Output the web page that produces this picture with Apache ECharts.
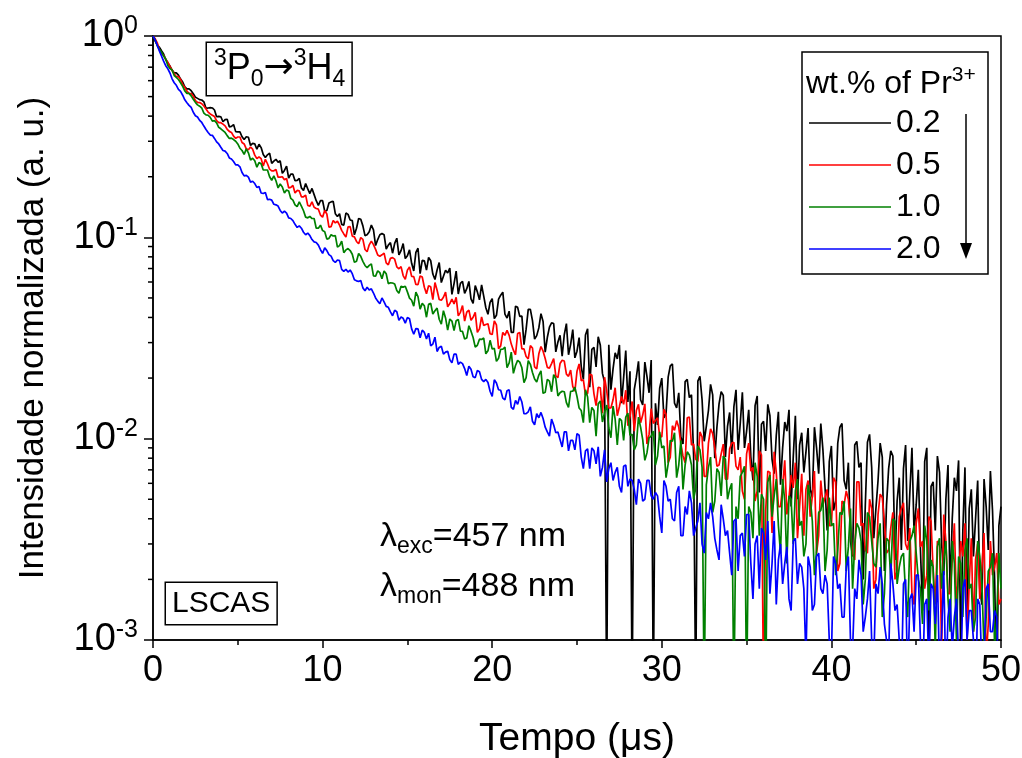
<!DOCTYPE html>
<html>
<head>
<meta charset="utf-8">
<script src="https://cdn.jsdelivr.net/npm/echarts@6.0.0/dist/echarts.min.js"></script>
<style>
html,body{margin:0;padding:0;background:#fff;}
#chart{width:1022px;height:758px;}
</style>
</head>
<body>
<div id="chart"></div>
<script>
// time step of the decay traces (µs); "Mid" arrays sit half a step after the main ones
const tStep = 0.25;
const seriesNames = ['0.2', '0.5', '1.0', '2.0'];
const seriesColors = ['#000000', '#ff0000', '#008000', '#0000ff'];
const xTicks = [0, 10, 20, 30, 40, 50];

// normalized intensity, 0.2 wt.% Pr3+  (t = 0, 0.25, 0.5 ...)
const black = [1.000,0.903,0.845,0.764,0.709,0.656,0.639,0.591,0.546,0.535,0.497,0.483,0.471,0.439,0.439,0.397,0.397,0.384,0.354,0.363,0.334,0.316,0.316,0.286,0.291,0.290,0.258,0.257,0.233,0.244,0.240,0.215,0.197,0.206,0.192,0.176,0.185,0.165,0.163,0.144,
0.152,0.136,0.150,0.131,0.131,0.115,0.130,0.121,0.111,0.123,0.102,0.1065,0.109,0.0975,0.1045,0.0874,0.0941,0.0933,0.0819,0.0931,0.0810,0.0743,0.0842,0.0660,0.0764,0.0794,0.0657,0.0688,0.0596,0.0687,0.0703,0.0589,0.0523,0.0605,0.0556,0.0495,0.0576,0.0489,0.0510,0.0415,
0.0496,0.0410,0.0516,0.0416,0.0430,0.0337,0.0449,0.0406,0.0350,0.0439,0.0312,0.0355,0.0382,0.0318,0.0376,0.0270,0.0326,0.0329,0.0261,0.0348,0.0272,0.0228,0.0327,0.0180,0.0284,0.0321,0.0211,0.0005,0.0175,0.0267,0.0292,0.0201,0.0152,0.0005,0.0202,0.0156,0.0240,0.0169,0.0005,0.0117,
0.0200,0.0133,0.0230,0.0150,0.0169,0.0094,0.0197,0.0165,0.0005,0.0204,0.0097,0.0138,0.0165,0.0114,0.0171,0.0081,0.0135,0.0144,0.0088,0.0170,0.0109,0.0081,0.0146,0.0054,0.0122,0.0148,0.0079,0.0104,0.0059,0.0121,0.0139,0.0081,0.0050,0.0107,0.0086,0.0056,0.0114,0.0067,0.0088,0.0035,
0.0092,0.0049,0.0114,0.0062,0.0076,0.0026,0.0097,0.0076,0.0047,0.0105,0.0032,0.0062,0.0081,0.0047,0.0087,0.0025,0.0064,0.0071,0.0031,0.0090,0.0047,0.0028,0.0077,0.0009,0.0061,0.0082,0.0030,0.0050,0.0017,0.0064,0.0078,0.0035,0.0012,0.0056,0.0040,0.0018,0.0063,0.0028,0.0044,0.0005,0.0046];
// t = 0.125, 0.375 ...
const blackMid = [0.945,0.879,0.814,0.734,0.677,0.656,0.611,0.559,0.546,0.517,0.490,0.481,0.437,0.441,0.429,0.399,0.375,0.386,0.356,0.335,
0.334,0.306,0.314,0.293,0.274,0.279,0.249,0.262,0.239,0.236,0.208,0.226,0.206,0.191,0.196,0.171,0.174,0.175,0.152,0.152,
0.135,0.148,0.151,0.127,0.116,0.132,0.122,0.103,0.124,0.114,0.103,0.115,0.091,0.103,0.103,0.0915,0.0834,0.0990,0.0859,0.0784,
0.0866,0.0681,0.0883,0.0769,0.0687,0.0765,0.0617,0.0750,0.0641,0.0665,0.0521,0.0679,0.0591,0.0527,0.0604,0.0470,0.0536,0.0580,0.0447,0.0475,
0.0395,0.0493,0.0534,0.0397,0.0337,0.0455,0.0405,0.0293,0.0439,0.0386,0.0325,0.0418,0.0269,0.0358,0.0373,0.0302,0.0257,0.0373,0.0294,0.0252,
0.0318,0.0197,0.0351,0.0278,0.0227,0.0291,0.0191,0.0293,0.0222,0.0249,0.0150,0.0274,0.0216,0.0175,0.0242,0.0147,0.0204,0.0246,0.0150,0.0178,
0.0127,0.0202,0.0235,0.0142,0.0102,0.0192,0.0160,0.0083,0.0193,0.0156,0.0115,0.0186,0.0080,0.0149,0.0164,0.0115,0.0084,0.0175,0.0119,0.0090,
0.0139,0.0062,0.0163,0.0118,0.0087,0.0130,0.0067,0.0136,0.0090,0.0109,0.0046,0.0130,0.0093,0.0068,0.0113,0.0051,0.0090,0.0119,0.0057,0.0077,
0.0044,0.0095,0.0119,0.0056,0.0031,0.0093,0.0072,0.0020,0.0096,0.0072,0.0045,0.0095,0.0022,0.0071,0.0082,0.0049,0.0028,0.0093,0.0054,0.0034,
0.0070,0.0014,0.0090,0.0058,0.0035,0.0068,0.0021,0.0074,0.0040,0.0055,0.0008,0.0072,0.0045,0.0026,0.0062,0.0015,0.0046,0.0069,0.0020,0.0037];

// 0.5 wt.%
const red = [1.000,0.925,0.819,0.766,0.706,0.649,0.629,0.574,0.532,0.518,0.478,0.467,0.449,0.419,0.404,0.380,0.371,0.358,0.336,0.318,
0.315,0.296,0.275,0.281,0.256,0.251,0.226,0.232,0.214,0.217,0.199,0.193,0.176,0.181,0.171,0.159,0.162,0.143,0.141,0.138,
0.126,0.1306,0.113,0.118,0.115,0.104,0.1127,0.1014,0.0954,0.0997,0.0870,0.0918,0.0920,0.0817,0.0819,0.0747,0.0786,0.0779,0.0698,0.0646,
0.0687,0.0640,0.0583,0.0643,0.0565,0.0575,0.0491,0.0546,0.0487,0.0535,0.0469,0.0467,0.0407,0.0458,0.0425,0.0387,0.0424,0.0351,0.0365,0.0372,
0.0329,0.0367,0.0289,0.0326,0.0326,0.0275,0.0333,0.0279,0.0256,0.0290,0.0227,0.0264,0.0272,0.0226,0.0236,0.0205,0.0236,0.0243,0.0204,0.0182,
0.0216,0.0194,0.0165,0.0209,0.0167,0.0180,0.0134,0.0173,0.0142,0.0179,0.0144,0.0148,0.0116,0.0153,0.0138,0.0120,0.0149,0.0105,0.0119,0.0127,
0.0102,0.0132,0.0081,0.0110,0.0114,0.0082,0.0127,0.0093,0.0079,0.0108,0.0065,0.0095,0.0106,0.0073,0.0084,0.0063,0.0089,0.0096,0.0070,0.0055,
0.0084,0.0069,0.0049,0.0087,0.0005,0.0069,0.0034,0.0068,0.0046,0.0078,0.0051,0.0057,0.0032,0.0067,0.0056,0.0041,0.0069,0.0033,0.0047,0.0056,
0.0037,0.0061,0.0024,0.0047,0.0050,0.0027,0.0061,0.0037,0.0028,0.0050,0.0018,0.0042,0.0051,0.0027,0.0036,0.0020,0.0041,0.0048,0.0028,0.0017,
0.0038,0.0029,0.0018,0.0041,0.0022,0.0031,0.0009,0.0031,0.0017,0.0038,0.0021,0.0026,0.0010,0.0032,0.0025,0.0016,0.0034,0.0012,0.0021,0.0027,0.0016];
const redMid = [0.971,0.856,0.802,0.740,0.676,0.628,0.608,0.556,0.519,0.503,0.468,0.461,0.434,0.410,0.398,0.371,0.365,0.344,0.332,0.310,
0.315,0.291,0.272,0.274,0.246,0.246,0.244,0.218,0.214,0.199,0.200,0.196,0.177,0.166,0.170,0.159,0.144,0.150,0.139,0.129,
0.1359,0.1124,0.1212,0.1202,0.1083,0.1003,0.1130,0.1005,0.0929,0.0977,0.0848,0.0957,0.0871,0.0805,0.0835,0.0730,0.0793,0.0714,0.0715,0.0618,
0.0713,0.0638,0.0582,0.0635,0.0525,0.0568,0.0596,0.0491,0.0504,0.0452,0.0494,0.0504,0.0424,0.0384,0.0435,0.0401,0.0337,0.0402,0.0369,0.0332,
0.0385,0.0280,0.0337,0.0345,0.0295,0.0261,0.0337,0.0279,0.0249,0.0282,0.0222,0.0287,0.0250,0.0224,0.0250,0.0201,0.0245,0.0209,0.0219,0.0172,
0.0235,0.0196,0.0168,0.0207,0.0146,0.0179,0.0202,0.0142,0.0156,0.0130,0.0162,0.0174,0.0129,0.0109,0.0148,0.0131,0.0094,0.0141,0.0123,0.0103,
0.0140,0.0076,0.0116,0.0123,0.0094,0.0076,0.0128,0.0094,0.0077,0.0102,0.0065,0.0112,0.0090,0.0074,0.0094,0.0063,0.0095,0.0073,0.0081,0.0050,
0.0095,0.0072,0.0055,0.0083,0.0044,0.0068,0.0086,0.0046,0.0058,0.0042,0.0066,0.0076,0.0046,0.0033,0.0062,0.0052,0.0027,0.0062,0.0051,0.0037,
0.0064,0.0022,0.0049,0.0055,0.0036,0.0025,0.0061,0.0038,0.0027,0.0045,0.0020,0.0053,0.0039,0.0028,0.0043,0.0022,0.0045,0.0030,0.0036,0.0015,
0.0045,0.0031,0.0021,0.0039,0.0015,0.0030,0.0042,0.0017,0.0025,0.0015,0.0031,0.0038,0.0019,0.0011,0.0030,0.0023,0.0008,0.0031,0.0023,0.0015];

// 1.0 wt.%
const green = [1.000,0.894,0.830,0.768,0.689,0.636,0.608,0.562,0.519,0.504,0.468,0.448,0.414,0.404,0.378,0.370,0.346,0.332,0.310,0.306,
0.291,0.270,0.275,0.242,0.240,0.235,0.216,0.216,0.192,0.191,0.184,0.166,0.170,0.153,0.142,0.143,0.126,0.127,0.124,0.111,
0.108,0.098,0.103,0.102,0.0910,0.0839,0.0880,0.0824,0.0761,0.0805,0.0725,0.0726,0.0644,0.0682,0.0623,0.0659,0.0595,0.0586,0.0527,0.0566,
0.0536,0.0487,0.0534,0.0440,0.0457,0.0465,0.0416,0.0445,0.0371,0.0398,0.0393,0.0344,0.0391,0.0341,0.0316,0.0342,0.0285,0.0312,0.0316,0.0273,
0.0279,0.0242,0.0278,0.0285,0.0238,0.0211,0.0245,0.0225,0.0201,0.0234,0.0198,0.0207,0.0168,0.0197,0.0171,0.0199,0.0169,0.0171,0.0143,0.0172,
0.0162,0.0138,0.0175,0.0120,0.0138,0.0149,0.0121,0.0147,0.0101,0.0125,0.0126,0.0098,0.0134,0.0105,0.0093,0.0114,0.0078,0.0101,0.0109,0.0082,
0.0090,0.0064,0.0098,0.0107,0.0074,0.0056,0.0086,0.0074,0.0057,0.0088,0.0005,0.0072,0.0043,0.0071,0.0052,0.0079,0.0056,0.0005,0.0040,0.0068,
0.0005,0.0043,0.0076,0.0033,0.0050,0.0061,0.0041,0.0063,0.0027,0.0049,0.0052,0.0030,0.0063,0.0039,0.0030,0.0051,0.0021,0.0043,0.0051,0.0028,
0.0037,0.0021,0.0043,0.0049,0.0029,0.0018,0.0038,0.0031,0.0020,0.0041,0.0024,0.0032,0.0013,0.0032,0.0020,0.0039,0.0023,0.0027,0.0013,0.0033,
0.0027,0.0018,0.0037,0.0014,0.0023,0.0029,0.0018,0.0031,0.0011,0.0024,0.0026,0.0013,0.0032,0.0019,0.0013,0.0026,0.0009,0.0022,0.0027,0.0013,0.0018];
const greenMid = [0.957,0.859,0.796,0.714,0.678,0.623,0.586,0.534,0.519,0.485,0.455,0.439,0.406,0.394,0.380,0.352,0.339,0.320,0.311,0.300,
0.277,0.258,0.263,0.247,0.223,0.232,0.216,0.200,0.202,0.176,0.178,0.172,0.156,0.145,0.150,0.1355,0.125,0.124,0.111,0.115,
0.1067,0.0988,0.1015,0.0895,0.0957,0.0866,0.0860,0.0751,0.0831,0.0760,0.0706,0.0738,0.0642,0.0668,0.0681,0.0589,0.0593,0.0545,0.0571,0.0572,
0.0499,0.0455,0.0508,0.0470,0.0401,0.0470,0.0432,0.0392,0.0432,0.0346,0.0384,0.0385,0.0342,0.0313,0.0364,0.0318,0.0291,0.0311,0.0264,0.0308,
0.0281,0.0251,0.0278,0.0225,0.0269,0.0231,0.0240,0.0190,0.0244,0.0213,0.0191,0.0217,0.0170,0.0193,0.0208,0.0163,0.0172,0.0151,0.0172,0.0180,
0.0142,0.0120,0.0161,0.0143,0.0103,0.0154,0.0135,0.0113,0.0145,0.0093,0.0123,0.0128,0.0104,0.0088,0.0128,0.0099,0.0085,0.0103,0.0074,0.0108,
0.0092,0.0075,0.0097,0.0064,0.0098,0.0074,0.0083,0.0050,0.0092,0.0072,0.0059,0.0081,0.0049,0.0068,0.0082,0.0050,0.0060,0.0046,0.0065,0.0073,
0.0046,0.0032,0.0065,0.0053,0.0005,0.0066,0.0052,0.0037,0.0063,0.0024,0.0050,0.0055,0.0037,0.0026,0.0059,0.0039,0.0028,0.0044,0.0022,0.0051,
0.0038,0.0028,0.0042,0.0022,0.0045,0.0030,0.0036,0.0015,0.0043,0.0031,0.0023,0.0038,0.0017,0.0031,0.0040,0.0019,0.0026,0.0017,0.0031,0.0037,
0.0020,0.0012,0.0031,0.0025,0.0009,0.0032,0.0025,0.0016,0.0031,0.0010,0.0024,0.0028,0.0018,0.0011,0.0031,0.0019,0.0013,0.0023,0.0009,0.0027];

// 2.0 wt.%
const blue = [1.000,0.899,0.796,0.712,0.655,0.586,0.543,0.508,0.466,0.442,0.402,0.381,0.357,0.332,0.321,0.298,0.280,0.268,0.248,0.238,
0.229,0.210,0.203,0.188,0.185,0.179,0.165,0.154,0.153,0.145,0.136,0.135,0.125,0.121,0.112,0.111,0.103,0.102,0.0949,0.0915,
0.0832,0.0859,0.0807,0.0751,0.0766,0.0677,0.0672,0.0660,0.0608,0.0611,0.0543,0.0547,0.0529,0.0482,0.0500,0.0454,0.0426,0.0434,0.0387,0.0396,
0.0400,0.0351,0.0352,0.0317,0.0337,0.0334,0.0295,0.0271,0.0288,0.0269,0.0247,0.0263,0.0234,0.0236,0.0206,0.0221,0.0201,0.0215,0.0192,0.0190,
0.0162,0.0189,0.0174,0.0156,0.0175,0.0140,0.0148,0.0152,0.0133,0.0144,0.0117,0.0127,0.0126,0.0108,0.0125,0.0107,0.0099,0.0108,0.0087,0.0098,
0.0106,0.0081,0.0087,0.0071,0.0087,0.0091,0.0072,0.0061,0.0076,0.0068,0.0058,0.0073,0.0058,0.0062,0.0047,0.0060,0.0050,0.0062,0.0050,0.0052,
0.0034,0.0058,0.0050,0.0039,0.0058,0.0033,0.0042,0.0048,0.0036,0.0048,0.0027,0.0040,0.0041,0.0028,0.0047,0.0033,0.0027,0.0039,0.0022,0.0034,
0.0042,0.0024,0.0030,0.0018,0.0034,0.0039,0.0024,0.0015,0.0030,0.0024,0.0016,0.0031,0.0019,0.0023,0.0008,0.0023,0.0015,0.0027,0.0017,0.0019,
0.0008,0.0024,0.0019,0.0013,0.0026,0.0009,0.0016,0.0021,0.0013,0.0022,0.0008,0.0017,0.0019,0.0010,0.0024,0.0014,0.0010,0.0019,0.0006,0.0017,
0.0021,0.0010,0.0015,0.0007,0.0018,0.0021,0.0011,0.0006,0.0016,0.0013,0.0008,0.0018,0.0010,0.0014,0.0005,0.0015,0.0008,0.0019,0.0011,0.0013,0.0006];
const blueMid = [0.957,0.844,0.750,0.687,0.613,0.569,0.531,0.482,0.4525,0.418,0.396,0.372,0.343,0.322,0.310,0.291,0.270,0.261,0.245,0.229,
0.224,0.202,0.199,0.190,0.177,0.166,0.167,0.1545,0.146,0.143,0.132,0.132,0.124,0.116,0.114,0.106,0.105,0.0975,0.0942,0.0868,
0.0887,0.0821,0.0767,0.0772,0.0693,0.0694,0.0688,0.0615,0.0604,0.0561,0.0565,0.0555,0.0500,0.0468,0.0478,0.0449,0.0408,0.0427,0.0402,0.0375,
0.0394,0.0330,0.0351,0.0346,0.0313,0.0289,0.0319,0.0284,0.0263,0.0272,0.0238,0.0263,0.0240,0.0223,0.0229,0.0203,0.0218,0.0197,0.0197,0.0172,
0.0196,0.0175,0.0159,0.0173,0.0143,0.0155,0.0162,0.0133,0.0136,0.0122,0.0133,0.0135,0.0114,0.0103,0.0117,0.0108,0.0091,0.0108,0.0098,0.0088,
0.0104,0.0071,0.0089,0.0090,0.0075,0.0065,0.0088,0.0071,0.0062,0.0072,0.0054,0.0074,0.0063,0.0056,0.0063,0.0049,0.0062,0.0052,0.0054,0.0041,
0.0062,0.0049,0.0040,0.0054,0.0033,0.0046,0.0055,0.0033,0.0039,0.0030,0.0043,0.0048,0.0032,0.0025,0.0040,0.0035,0.0021,0.0040,0.0033,0.0026,
0.0042,0.0016,0.0033,0.0036,0.0025,0.0017,0.0039,0.0025,0.0019,0.0029,0.0014,0.0032,0.0024,0.0018,0.0026,0.0014,0.0026,0.0018,0.0021,0.0010,
0.0026,0.0018,0.0013,0.0023,0.0010,0.0018,0.0025,0.0011,0.0016,0.0010,0.0019,0.0023,0.0012,0.0008,0.0019,0.0015,0.0006,0.0020,0.0016,0.0011,
0.0021,0.0006,0.0016,0.0019,0.0012,0.0007,0.0022,0.0013,0.0009,0.0016,0.0006,0.0020,0.0014,0.0010,0.0016,0.0007,0.0018,0.0011,0.0014,0.0005];

// log-axis minor tick positions (2..9 x each decade)
const minorMantissas = [2, 3, 4, 5, 6, 7, 8, 9];
const decades = [0.001, 0.01, 0.1];

const FONT = '"Liberation Sans", Arial, sans-serif';
const mainList = [black, red, green, blue];
const midList = [blackMid, redMid, greenMid, blueMid];

function mergeTrace(main, mid) {
  const out = [];
  for (let i = 0; i < main.length; i++) {
    out.push([i * tStep, main[i]]);
    if (i < mid.length) out.push([(i + 0.5) * tStep, mid[i]]);
  }
  return out;
}

const lineSeries = mainList.map((vals, k) => ({
  name: seriesNames[k],
  type: 'line',
  data: mergeTrace(vals, midList[k]),
  showSymbol: false,
  symbol: 'none',
  sampling: 'none',
  clip: true,
  color: seriesColors[k],
  lineStyle: { width: 1.7, color: seriesColors[k] },
  z: 2 + k,
  animation: false
}));

const minorData = [];
decades.forEach(d => minorMantissas.forEach(m => minorData.push([0, +(m * d).toPrecision(3)])));

const minorTickSeries = {
  type: 'custom',
  silent: true,
  clip: false,
  data: minorData,
  z: 10,
  renderItem: function (params, api) {
    const p = api.coord([0, api.value(1)]);
    return {
      type: 'line',
      shape: { x1: p[0] - 5, y1: p[1], x2: p[0], y2: p[1] },
      style: { stroke: '#000', lineWidth: 1.5 }
    };
  }
};

const chart = echarts.init(document.getElementById('chart'), null, { renderer: 'canvas' });

const option = {
  backgroundColor: '#fff',
  animation: false,
  textStyle: { fontFamily: FONT, color: '#000' },
  grid: {
    left: 153, top: 36, right: 21, bottom: 118,
    containLabel: false,
    outerBoundsMode: 'none',
    show: true, borderColor: '#000', borderWidth: 1.5, backgroundColor: 'transparent'
  },
  xAxis: {
    type: 'value', min: 0, max: 50, interval: 10,
    name: 'Tempo (μs)', nameLocation: 'middle', nameGap: 80,
    nameTextStyle: { fontSize: 39, fontFamily: FONT, color: '#000' },
    axisLine: { show: true, onZero: false, lineStyle: { color: '#000', width: 1.5 } },
    axisTick: { show: true, inside: false, length: 8, lineStyle: { color: '#000', width: 1.5 } },
    minorTick: { show: true, splitNumber: 2, length: 5, lineStyle: { color: '#000', width: 1.5 } },
    axisLabel: { fontSize: 36, fontFamily: FONT, color: '#000', margin: 13,
      formatter: v => xTicks.indexOf(v) >= 0 ? String(v) : '' },
    splitLine: { show: false }
  },
  yAxis: {
    type: 'log', logBase: 10, min: 0.001, max: 1,
    name: 'Intensidade normalizada (a. u.)', nameLocation: 'middle', nameGap: 102,
    nameTextStyle: { fontSize: 35, fontFamily: FONT, color: '#000' },
    axisLine: { show: true, lineStyle: { color: '#000', width: 1.5 } },
    axisTick: { show: true, inside: false, length: 9, lineStyle: { color: '#000', width: 1.5 } },
    axisLabel: {
      margin: 15,
      formatter: v => '{b|10}{s|' + Math.round(Math.log10(v)) + '}',
      rich: {
        b: { fontSize: 38, fontFamily: FONT, color: '#000', lineHeight: 44 },
        s: { fontSize: 25, fontFamily: FONT, color: '#000', lineHeight: 25, verticalAlign: 'top' }
      }
    },
    splitLine: { show: false }
  },
  legend: {
    show: true,
    data: seriesNames,
    orient: 'vertical',
    left: 809, top: 107,
    padding: 0,
    icon: 'rect',
    itemWidth: 82, itemHeight: 1.5,
    itemGap: 10,
    textStyle: { fontSize: 32, fontFamily: FONT, color: '#000', lineHeight: 32 },
    selectedMode: false
  },
  series: lineSeries.concat([minorTickSeries]),
  graphic: [
    {
      type: 'text', x: 207, y: 43, z: 100,
      style: {
        text: '{s|3}{b|P}{d|0}{a|→}{s|3}{b|H}{d|4}',
        rich: {
          b: { fontSize: 36, fontFamily: FONT, fill: '#000', lineHeight: 44 },
          a: { fontSize: 36, fontFamily: '"DejaVu Sans", sans-serif', fill: '#000', lineHeight: 44 },
          s: { fontSize: 23, fontFamily: FONT, fill: '#000', lineHeight: 24, verticalAlign: 'top' },
          d: { fontSize: 23, fontFamily: FONT, fill: '#000', lineHeight: 22, verticalAlign: 'bottom' }
        },
        padding: [4, 6, 4, 7],
        borderColor: '#000', borderWidth: 1.5, backgroundColor: '#fff'
      }
    },
    {
      type: 'text', x: 166, y: 583, z: 100,
      style: {
        text: 'LSCAS', font: '30px ' + FONT, fill: '#000',
        padding: [6, 6, 5, 6],
        borderColor: '#000', borderWidth: 1.5, backgroundColor: '#fff'
      }
    },
    {
      type: 'rect', z: 0,
      shape: { x: 802, y: 52, width: 186, height: 222 },
      style: { fill: 'none', stroke: '#000', lineWidth: 1.5 }
    },
    {
      type: 'text', x: 806, y: 84, z: 100,
      style: {
        text: '{b|wt.% of Pr}{s|3+}',
        verticalAlign: 'middle',
        rich: {
          b: { fontSize: 32, fontFamily: FONT, fill: '#000', lineHeight: 38 },
          s: { fontSize: 21, fontFamily: FONT, fill: '#000', lineHeight: 21, verticalAlign: 'top' }
        }
      }
    },
    {
      type: 'line', z: 100,
      shape: { x1: 966, y1: 114, x2: 966, y2: 250 },
      style: { stroke: '#000', lineWidth: 1.5 }
    },
    {
      type: 'polygon', z: 100,
      shape: { points: [[960, 243], [972, 243], [966, 259]] },
      style: { fill: '#000' }
    },
    {
      type: 'text', x: 380, y: 516, z: 100,
      style: {
        text: '{b|λ}{d|exc}{b|=457 nm}',
        rich: {
          b: { fontSize: 34, fontFamily: FONT, fill: '#000', lineHeight: 42 },
          d: { fontSize: 23, fontFamily: FONT, fill: '#000', lineHeight: 23, verticalAlign: 'bottom' }
        }
      }
    },
    {
      type: 'text', x: 380, y: 566, z: 100,
      style: {
        text: '{b|λ}{d|mon}{b|=488 nm}',
        rich: {
          b: { fontSize: 34, fontFamily: FONT, fill: '#000', lineHeight: 42 },
          d: { fontSize: 23, fontFamily: FONT, fill: '#000', lineHeight: 23, verticalAlign: 'bottom' }
        }
      }
    }
  ]
};

chart.setOption(option);
</script>
</body>
</html>
